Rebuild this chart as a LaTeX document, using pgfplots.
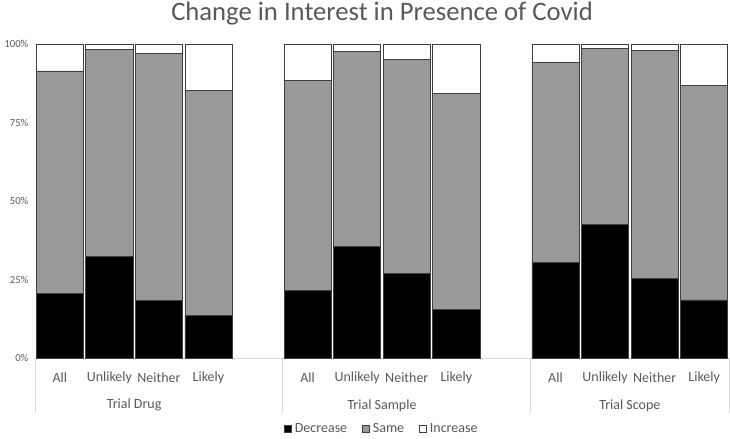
\documentclass[border=0pt]{standalone}
\usepackage{fontspec}
\setmainfont{Carlito}
\usepackage{pgfplots}
\usepackage{pgfplotstable}
\pgfplotsset{compat=1.18}

\definecolor{txt}{HTML}{595959}
\definecolor{samegray}{HTML}{999999}
\definecolor{edge}{HTML}{404040}
\definecolor{axline}{HTML}{D9D9D9}

% x: slot of the bar (groups at 0-3, 5-8, 10-13), values in percent
\pgfplotstableread{
x   dec   same  inc
0   20.7  70.7  8.6
1   32.4  65.9  1.7
2   18.4  78.6  3.0
3   13.6  71.6  14.8
5   21.5  67.0  11.5
6   35.6  62.1  2.3
7   26.8  68.3  4.9
8   15.6  68.6  15.8
10  30.5  63.6  5.9
11  42.5  56.0  1.5
12  25.2  72.8  2.0
13  18.5  68.3  13.2
}\covid

\begin{document}
\begin{tikzpicture}
\begin{axis}[
    scale only axis,
    width=520.5pt, height=235.5pt,
    ybar stacked, bar width=0.95,
    xmin=-0.5, xmax=13.5,
    ymin=0, ymax=100,
    clip=false,
    axis x line=bottom, axis y line=left,
    x axis line style={axline, -},
    y axis line style={draw=none},
    major tick length=0pt,
    xtick={0,1,2,3,5,6,7,8,10,11,12,13},
    xticklabels={All,Unlikely,Neither,Likely,All,Unlikely,Neither,Likely,All,Unlikely,Neither,Likely},
    xticklabel style={font=\fontsize{10.5}{12}\selectfont, text=txt, anchor=center, yshift=-15pt},
    ytick={0,25,50,75,100},
    yticklabel={\pgfmathprintnumber{\tick}\%},
    yticklabel style={font=\fontsize{8}{9}\selectfont, text=txt, xshift=-1.5pt},
    /pgf/number format/assume math mode=true,
    legend style={at={(0.5,-0.226)}, anchor=center, draw=none, inner sep=1pt,
        font=\fontsize{10.5}{12}\selectfont, text=txt,
        /tikz/every even column/.append style={column sep=9pt}},
    legend columns=3,
    legend image code/.code={\draw[#1, draw=edge] (0cm,-0.1cm) rectangle (0.2cm,0.1cm);},
    every axis plot/.append style={draw=edge, line width=0.6pt},
]
\addplot[fill=black] table[x=x, y=dec] {\covid};
\addplot[fill=samegray] table[x=x, y=same] {\covid};
\addplot[fill=white] table[x=x, y=inc] {\covid};
\legend{Decrease, Same, Increase}

\pgfplotsinvokeforeach{-0.5,4.5,9.5,13.5}{
    \draw[axline, line width=0.75pt] (axis cs:#1,0) -- ([yshift=-41pt]axis cs:#1,0);
}
\node[text=txt, font=\fontsize{10.5}{12}\selectfont] at ([yshift=-35.5pt]axis cs:1.5,0) {Trial Drug};
\node[text=txt, font=\fontsize{10.5}{12}\selectfont] at ([yshift=-35.5pt]axis cs:6.5,0) {Trial Sample};
\node[text=txt, font=\fontsize{10.5}{12}\selectfont] at ([yshift=-35.5pt]axis cs:11.5,0) {Trial Scope};
\node[text=txt, font=\fontsize{20}{24}\selectfont] at ([yshift=22.5pt]rel axis cs:0.5,1) {Change in Interest in Presence of Covid};

\coordinate (bl) at (rel axis cs:0,0);
\coordinate (tr) at (rel axis cs:1,1);
\end{axis}
\pgfresetboundingbox
\path ([xshift=-26.25pt, yshift=-60pt]bl) rectangle ([xshift=0.75pt, yshift=33pt]tr);
\end{tikzpicture}
\end{document}
